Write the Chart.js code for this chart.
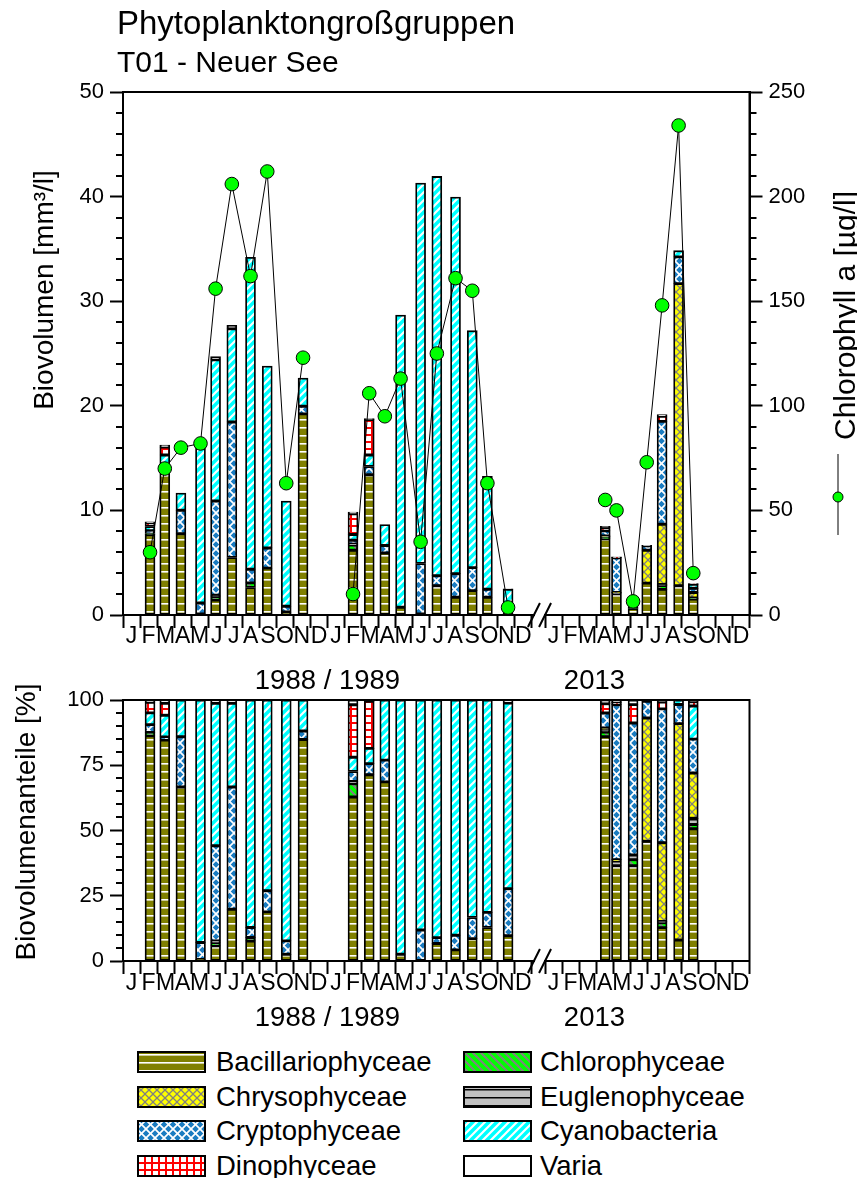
<!DOCTYPE html>
<html>
<head>
<meta charset="utf-8">
<script src="https://cdn.jsdelivr.net/npm/chart.js@4.4.1/dist/chart.umd.min.js"></script>
<style>
  body { margin: 0; background: #fff; font-family: "Liberation Sans", Arial, sans-serif; }
  #page { position: relative; width: 857px; height: 1178px; overflow: hidden; background: #fff; }
  .txt { position: absolute; white-space: nowrap; color: #000; line-height: 1; }
  canvas { position: absolute; left: 0; }
  #c1 { top: 0; }
  #c2 { top: 680px; }
</style>
</head>
<body>
<div id="page">
  <canvas id="c1" width="857" height="700"></canvas>
  <canvas id="c2" width="857" height="360"></canvas>
  <div class="txt" style="left:117px; top:6px; font-size:33px;">Phytoplanktongroßgruppen</div>
  <div class="txt" style="left:117px; top:47px; font-size:30px;">T01 - Neuer See</div>
  <div id="legend"></div>
</div>
<script>
// sampling dates
const sampleDates = [
  '1988-02-18', '1988-03-15', '1988-04-13', '1988-05-18', '1988-06-14', '1988-07-13', '1988-08-16', '1988-09-15', '1988-10-19', '1988-11-18',
  '1989-02-15', '1989-03-15', '1989-04-12', '1989-05-10', '1989-06-15', '1989-07-14', '1989-08-17', '1989-09-16', '1989-10-13', '1989-11-19',
  '2013-04-17', '2013-05-07', '2013-06-06', '2013-06-30', '2013-07-28', '2013-08-27', '2013-09-22'
];

// biovolume per group [mm3/l]
const bacillariophyceae = [7.68, 13.75, 7.77, 0.1, 1.43, 5.5, 2.63, 4.48, 0.28, 19.23, 6.19, 13.4, 5.93, 0.75, 0.1, 2.8, 1.7, 2.33, 1.7, 0.24, 7.28, 2.03, 0.62, 3.05, 2.45, 2.8, 1.52];
const chlorophyceae     = [0.11, 0, 0, 0, 0.3, 0, 0.44, 0, 0, 0, 0.5, 0, 0, 0, 0, 0, 0, 0, 0, 0, 0.15, 0, 0.04, 0, 0.36, 0, 0.05];
const euglenophyceae    = [0, 0, 0, 0, 0.17, 0, 0, 0, 0, 0, 0.09, 0, 0, 0, 0, 0, 0, 0, 0, 0, 0.07, 0.1, 0.03, 0, 0.1, 0, 0.07];
const chrysophyceae     = [0, 0, 0, 0, 0, 0, 0, 0, 0, 0, 0, 0, 0, 0, 0, 0, 0, 0, 0, 0, 0.06, 0.03, 0, 3.14, 5.77, 28.88, 0.52];
const cryptophyceae     = [0.27, 0.2, 2.24, 1.05, 9.0, 12.96, 1.31, 1.93, 0.56, 0.73, 0.37, 0.8, 0.72, 0, 4.82, 0.96, 2.25, 2.2, 0.77, 0.45, 0.49, 3.3, 0.86, 0.43, 9.83, 2.56, 0.39];
const cyanobacteria     = [0.4, 1.35, 1.64, 15.02, 13.5, 8.9, 29.82, 17.39, 10.06, 2.69, 0.54, 1.1, 1.99, 27.93, 36.38, 38.17, 36.01, 22.65, 10.78, 1.77, 0, 0, 0, 0, 0, 0.59, 0.38];
const dinophyceae       = [0.36, 0.75, 0, 0, 0, 0, 0, 0, 0, 0, 1.98, 3.38, 0, 0, 0, 0, 0, 0, 0, 0, 0.3, 0.05, 0.12, 0, 0.5, 0, 0.05];
const varia             = [0.08, 0.2, 0, 0, 0.3, 0.34, 0, 0, 0, 0, 0.18, 0.1, 0, 0, 0, 0, 0, 0, 0, 0.03, 0.12, 0.05, 0.03, 0.03, 0.15, 0, 0.02];

// chlorophyll a [ug/l]
const chlorophyll = [30, 70, 80, 82, 156, 206, 162, 212, 63, 123, 10, 106, 95, 113, 35, 125, 161, 155, 63, 3.6, 55, 50, 6.5, 73, 148, 234, 20];

const monthLetters = ['J', 'F', 'M', 'A', 'M', 'J', 'J', 'A', 'S', 'O', 'N', 'D'];
const years = [1988, 1989, 2013];
const yearTexts = ['1988 / 1989', '2013'];

// axis layout: 2013 follows 1989 after a small break
const yearStart = { 1988: 0, 1989: 12, 2013: 24.77 };
const xMax = yearStart[2013] + 12;
const FONT = '"Liberation Sans", Arial, sans-serif';

function toMonth(d) {
  const [y, m, day] = d.split('-').map(Number);
  const dim = new Date(y, m, 0).getDate();
  return yearStart[y] + (m - 1) + (day - 1) / dim;
}
const xs = sampleDates.map(toMonth);
const totals = xs.map((_, i) => bacillariophyceae[i] + chlorophyceae[i] + euglenophyceae[i] + chrysophyceae[i] +
  cryptophyceae[i] + cyanobacteria[i] + dinophyceae[i] + varia[i]);

// x ticks: month edges carry marks, month centres carry letters
let xTicks = [];
years.forEach(yr => {
  for (let m = 0; m <= 12; m++) xTicks.push({ value: yearStart[yr] + m, label: '', edge: true });
  for (let m = 0; m < 12; m++) xTicks.push({ value: yearStart[yr] + m + 0.5, label: monthLetters[m], edge: false });
});
xTicks.sort((a, b) => a.value - b.value);
xTicks = xTicks.filter((t, i) => i === 0 || Math.abs(t.value - xTicks[i - 1].value) > 1e-6);

// fill patterns
function tile(kind) {
  const c = document.createElement('canvas');
  const s = kind === 'dino' ? 7 : (kind === 'crypto' ? 9 : 8);
  c.width = s; c.height = s;
  const g = c.getContext('2d');
  const diag = (dir, col, w) => {
    g.strokeStyle = col; g.lineWidth = w; g.beginPath();
    if (dir > 0) {
      g.moveTo(-1, 1); g.lineTo(1, -1); g.moveTo(0, s); g.lineTo(s, 0); g.moveTo(s - 1, s + 1); g.lineTo(s + 1, s - 1);
    } else {
      g.moveTo(-1, s - 1); g.lineTo(1, s + 1); g.moveTo(0, 0); g.lineTo(s, s); g.moveTo(s - 1, -1); g.lineTo(s + 1, 1);
    }
    g.stroke();
  };
  switch (kind) {
    case 'baci': g.fillStyle = '#808000'; g.fillRect(0, 0, s, s); g.fillStyle = '#fff'; g.fillRect(0, 3, s, 1.6); break;
    case 'chloro': g.fillStyle = '#00ff00'; g.fillRect(0, 0, s, s); diag(-1, '#808080', 2); break;
    case 'eugleno': g.fillStyle = '#c0c0c0'; g.fillRect(0, 0, s, s); g.fillStyle = '#000'; g.fillRect(0, 3, s, 1.5); break;
    case 'chryso': g.fillStyle = '#ffff00'; g.fillRect(0, 0, s, s); diag(1, '#808080', 1.3); diag(-1, '#808080', 1.3); break;
    case 'crypto': g.fillStyle = '#1a7cc1'; g.fillRect(0, 0, s, s); diag(1, '#fff', 1.7); diag(-1, '#fff', 1.7); break;
    case 'cyano': g.fillStyle = '#00ffff'; g.fillRect(0, 0, s, s); diag(1, '#fff', 2.2); break;
    case 'dino': g.fillStyle = '#fff'; g.fillRect(0, 0, s, s); g.fillStyle = '#ff0000'; g.fillRect(0, 0, s, 2); g.fillRect(0, 0, 2, s); break;
    default: g.fillStyle = '#fff'; g.fillRect(0, 0, s, s);
  }
  return c;
}

const groups = [
  { label: 'Bacillariophyceae', kind: 'baci', values: bacillariophyceae },
  { label: 'Chlorophyceae', kind: 'chloro', values: chlorophyceae },
  { label: 'Euglenophyceae', kind: 'eugleno', values: euglenophyceae },
  { label: 'Chrysophyceae', kind: 'chryso', values: chrysophyceae },
  { label: 'Cryptophyceae', kind: 'crypto', values: cryptophyceae },
  { label: 'Cyanobacteria', kind: 'cyano', values: cyanobacteria },
  { label: 'Dinophyceae', kind: 'dino', values: dinophyceae },
  { label: 'Varia', kind: 'varia', values: varia }
];

function barSets(ctx, percent) {
  return groups.map(gr => ({
    type: 'bar',
    label: gr.label,
    data: gr.values.map((v, i) => ({ x: xs[i], y: percent ? v / totals[i] * 100 : v })).filter(p => p.y > 0),
    backgroundColor: ctx.createPattern(tile(gr.kind), 'repeat'),
    borderColor: '#000',
    borderWidth: 1.8,
    borderSkipped: false,
    barThickness: 10,
    xAxisID: 'x',
    yAxisID: 'y',
    order: 1
  }));
}

function chlSets() {
  return years.map(yr => ({
    type: 'line',
    label: 'Chlorophyll a ' + yr,
    data: chlorophyll.map((v, i) => ({ x: xs[i], y: v })).filter((p, i) => sampleDates[i].startsWith(String(yr))),
    borderColor: '#000',
    borderWidth: 1,
    pointRadius: 6.8,
    pointBackgroundColor: '#00ff00',
    pointBorderColor: '#000',
    pointBorderWidth: 1,
    xAxisID: 'x',
    yAxisID: 'y2',
    order: 0
  }));
}

function xAxis(height, pad) {
  return {
    type: 'linear', min: 0, max: xMax, stacked: true, offset: false,
    afterBuildTicks: s => { s.ticks = xTicks.map(t => ({ value: t.value })); },
    afterFit: s => { s.height = height; },
    ticks: {
      autoSkip: false, maxRotation: 0, minRotation: 0, padding: pad, color: '#000',
      font: { family: FONT, size: 23, lineHeight: 1 },
      callback: (v, i) => xTicks[i].label
    },
    grid: {
      drawOnChartArea: false, offset: false, tickLength: 13, tickWidth: 2,
      tickColor: c => (xTicks[c.index] && xTicks[c.index].edge) ? '#000' : 'rgba(0,0,0,0)'
    },
    border: { display: true, color: '#000', width: 2 }
  };
}

function yAxis(pos, max, step, width, stacked) {
  return {
    position: pos, min: 0, max: max, stacked: stacked,
    afterFit: s => { s.width = width; },
    ticks: { stepSize: step, padding: 6, color: '#000', font: { family: FONT, size: 22 } },
    grid: { drawOnChartArea: false, tickLength: 13, tickWidth: 2, tickColor: '#000' },
    border: { display: true, color: '#000', width: 2 }
  };
}

const decor = {
  id: 'decor',
  afterDraw(chart, args, o) {
    const ctx = chart.ctx, a = chart.chartArea, sx = chart.scales.x;
    ctx.save();
    ctx.strokeStyle = '#000';
    ctx.lineWidth = 2;
    ctx.strokeRect(a.left, a.top, a.right - a.left, a.bottom - a.top);
    // minor ticks
    o.minor.forEach(m => {
      const s = chart.scales[m.axis];
      for (let v = s.min; v <= s.max; v += m.step) {
        if (v % m.major === 0) continue;
        const y = Math.round(s.getPixelForValue(v));
        const x0 = m.axis === 'y2' ? a.right : a.left;
        ctx.beginPath();
        ctx.moveTo(x0, y);
        ctx.lineTo(x0 + (m.axis === 'y2' ? 7 : -7), y);
        ctx.stroke();
      }
    });
    // axis break
    const b1 = sx.getPixelForValue(24) + 2, b2 = sx.getPixelForValue(yearStart[2013]);
    ctx.fillStyle = '#fff';
    ctx.fillRect(b1 + 1, a.bottom - 3, b2 - b1 - 2, 6);
    ctx.beginPath();
    [b1, b2].forEach(c => { ctx.moveTo(c - 6, a.bottom + 12); ctx.lineTo(c + 6, a.bottom - 12); });
    ctx.stroke();
    // year captions
    ctx.fillStyle = '#000';
    ctx.font = '27.5px ' + FONT;
    ctx.textAlign = 'center';
    ctx.textBaseline = 'alphabetic';
    ctx.fillText(yearTexts[0], sx.getPixelForValue(12), o.yearY);
    ctx.fillText(yearTexts[1], sx.getPixelForValue(yearStart[2013] + 2.9), o.yearY);
    // axis titles (rotated)
    o.titles.forEach(t => {
      ctx.save();
      ctx.font = t.size + 'px ' + FONT;
      ctx.translate(t.x, t.y);
      ctx.rotate(-Math.PI / 2);
      ctx.textAlign = t.align;
      ctx.fillText(t.text, 0, 0);
      ctx.restore();
    });
    // chlorophyll key symbol
    if (o.key) {
      const k = o.key;
      ctx.lineWidth = 1;
      ctx.beginPath();
      ctx.moveTo(k.x, k.y1); ctx.lineTo(k.x, k.y2);
      ctx.stroke();
      ctx.beginPath();
      ctx.arc(k.x, k.yDot, 5, 0, Math.PI * 2);
      ctx.fillStyle = '#00ff00';
      ctx.fill();
      ctx.stroke();
    }
    ctx.restore();
  }
};

const ctx1 = document.getElementById('c1').getContext('2d');
new Chart(ctx1, {
  type: 'bar',
  data: { datasets: barSets(ctx1, false).concat(chlSets()) },
  options: {
    responsive: false,
    animation: false,
    layout: { padding: { top: 92, left: 0, right: 0, bottom: 0 } },
    scales: {
      x: xAxis(85, -3),
      y: yAxis('left', 50, 10, 123, true),
      y2: yAxis('right', 250, 50, 107.5, false)
    },
    plugins: {
      legend: { display: false },
      tooltip: { enabled: false },
      decor: {
        minor: [{ axis: 'y', step: 2, major: 10 }, { axis: 'y2', step: 10, major: 50 }],
        yearY: 689,
        titles: [
          { text: 'Biovolumen [mm³/l]', x: 53, y: 290, align: 'center', size: 28 },
          { text: 'Chlorophyll a [µg/l]', x: 855, y: 440, align: 'left', size: 30 }
        ],
        key: { x: 838, y1: 454, y2: 535, yDot: 497 }
      }
    }
  },
  plugins: [decor]
});

const ctx2 = document.getElementById('c2').getContext('2d');
new Chart(ctx2, {
  type: 'bar',
  data: { datasets: barSets(ctx2, true) },
  options: {
    responsive: false,
    animation: false,
    layout: { padding: { top: 20, left: 0, right: 107.5, bottom: 0 } },
    scales: {
      x: xAxis(79, -2),
      y: yAxis('left', 100, 25, 123, true)
    },
    plugins: {
      legend: { display: false },
      tooltip: { enabled: false },
      decor: {
        minor: [{ axis: 'y', step: 5, major: 25 }],
        yearY: 346,
        titles: [{ text: 'Biovolumenanteile [%]', x: 35, y: 142, align: 'center', size: 28 }]
      }
    }
  },
  plugins: [decor]
});

// legend in two columns
const legendCols = [
  ['Bacillariophyceae', 'Chrysophyceae', 'Cryptophyceae', 'Dinophyceae'],
  ['Chlorophyceae', 'Euglenophyceae', 'Cyanobacteria', 'Varia']
];
const legendX = [[137, 216], [463, 540]];
const rowY = [1062, 1096.5, 1131, 1165.5];
const legend = document.getElementById('legend');
legendCols.forEach((col, ci) => {
  col.forEach((name, ri) => {
    const gr = groups.find(g => g.label === name);
    const sw = document.createElement('canvas');
    sw.width = 69; sw.height = 22;
    sw.style.left = legendX[ci][0] + 'px';
    sw.style.top = (rowY[ri] - 11) + 'px';
    const g = sw.getContext('2d');
    g.fillStyle = g.createPattern(tile(gr.kind), 'repeat');
    g.fillRect(0, 0, 69, 22);
    g.strokeStyle = '#000'; g.lineWidth = 2;
    g.strokeRect(1, 1, 67, 20);
    legend.appendChild(sw);
    const t = document.createElement('div');
    t.className = 'txt';
    t.style.left = legendX[ci][1] + 'px';
    t.style.top = (rowY[ri] - 14) + 'px';
    t.style.fontSize = '27.5px';
    t.textContent = name;
    legend.appendChild(t);
  });
});
</script>
</body>
</html>
